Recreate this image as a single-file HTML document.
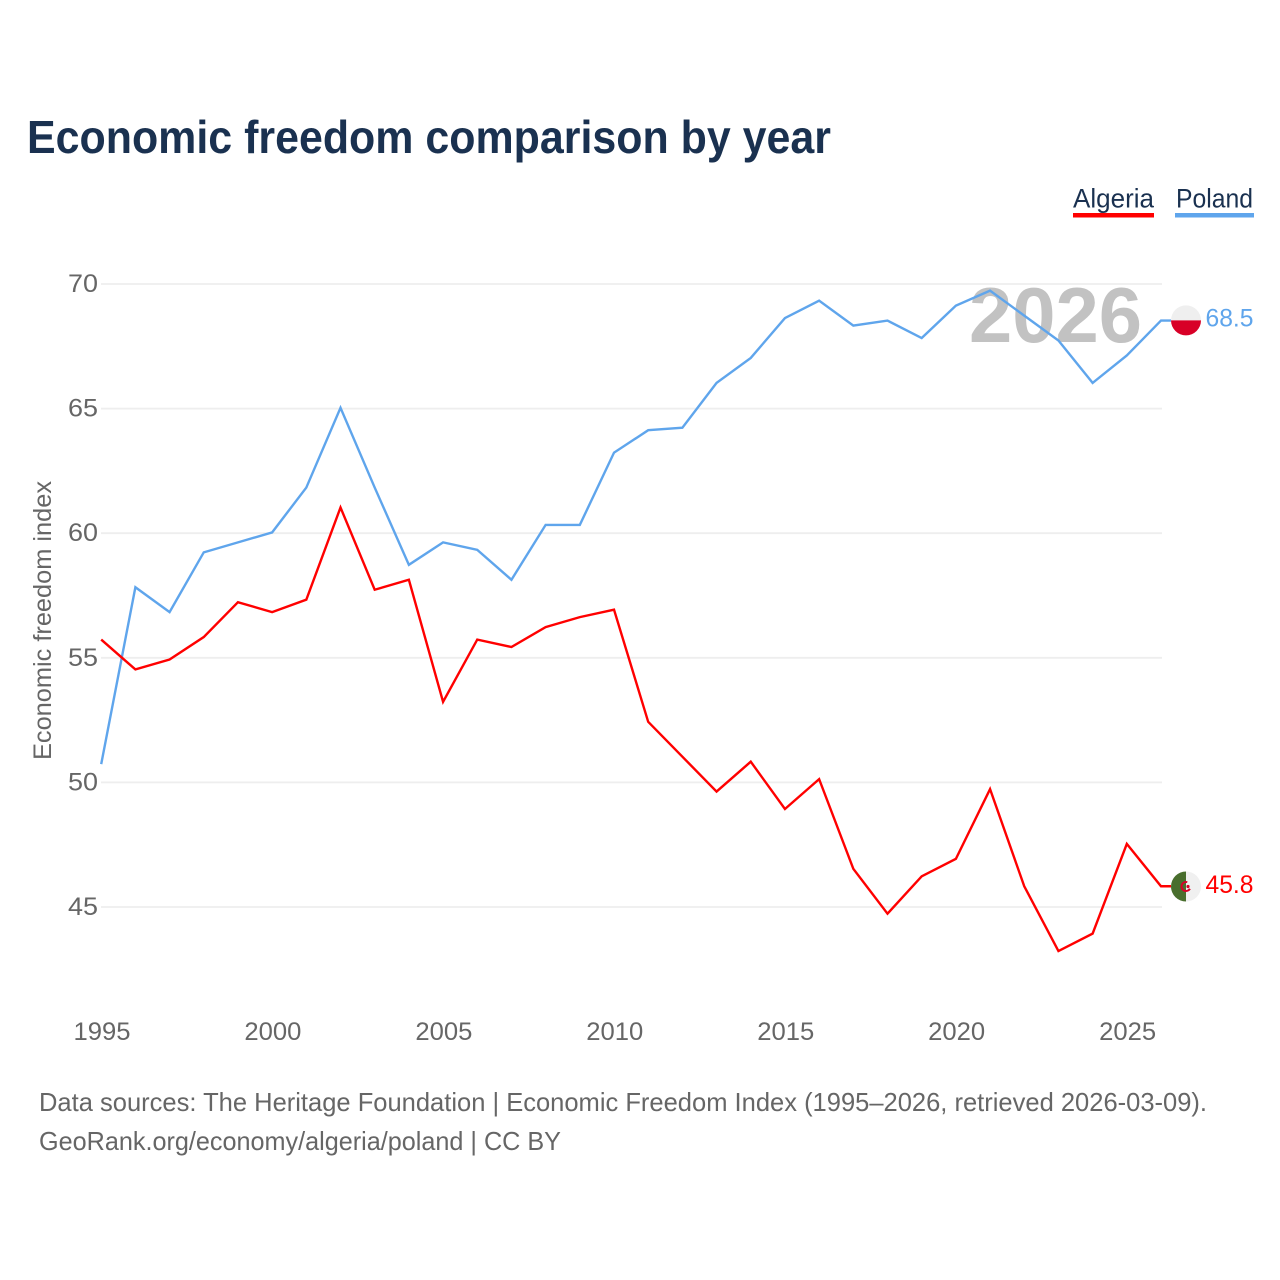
<!DOCTYPE html>
<html lang="en">
<head>
<meta charset="utf-8">
<title>Economic freedom comparison by year</title>
<style>
html,body{margin:0;padding:0;background:#fff;width:1280px;height:1280px;overflow:hidden}
svg{display:block}
text{font-family:"Liberation Sans",sans-serif}
</style>
</head>
<body>
<svg id="chart" xmlns="http://www.w3.org/2000/svg" width="1280" height="1280" viewBox="0 0 1280 1280">
  <rect x="0" y="0" width="1280" height="1280" fill="#ffffff"/>
  <text x="27" y="153" font-size="46" font-weight="700" fill="#1a3150" textLength="804" lengthAdjust="spacingAndGlyphs">Economic freedom comparison by year</text>

  <g id="grid"></g>
  <g id="yticks"></g>
  <g id="xticks"></g>
  <text transform="translate(51,620.5) rotate(-90)" text-anchor="middle" font-size="25" fill="#666666" textLength="279" lengthAdjust="spacingAndGlyphs">Economic freedom index</text>

  <text x="969" y="342" font-size="78" font-weight="700" fill="#c2c2c2" textLength="173" lengthAdjust="spacingAndGlyphs">2026</text>

  <g id="series"></g>

  <g id="flag-poland">
    <path d="M-15 0A15 15 0 0 1 15 0Z" fill="#efefef"/>
    <path d="M-15 0A15 15 0 0 0 15 0Z" fill="#d80027"/>
  </g>
  <g id="flag-algeria">
    <path d="M0 -15A15 15 0 0 0 0 15Z" fill="#496e2d"/>
    <path d="M0 -15A15 15 0 0 1 0 15Z" fill="#f0f0f0"/>
    <circle cx="0" cy="0" r="4.5" fill="none" stroke="#d80027" stroke-width="2" stroke-dasharray="20 9" transform="rotate(30)"/>
    <circle cx="2" cy="0" r="1.6" fill="#d80027"/>
  </g>
  <text id="label-poland" x="1253.5" text-anchor="end" font-size="25" fill="#5fa5ec" textLength="48" lengthAdjust="spacingAndGlyphs"></text>
  <text id="label-algeria" x="1253.5" text-anchor="end" font-size="25" fill="#ff0000" textLength="48" lengthAdjust="spacingAndGlyphs"></text>

  <g>
    <g>
      <text x="1073" y="207.5" font-size="27" fill="#1a3150" textLength="81" lengthAdjust="spacingAndGlyphs">Algeria</text>
      <rect x="1073" y="213" width="81" height="4.5" fill="#ff0000"/>
    </g>
    <g>
      <text x="1176" y="207.5" font-size="27" fill="#1a3150" textLength="77" lengthAdjust="spacingAndGlyphs">Poland</text>
      <rect x="1175" y="213" width="79" height="4.5" fill="#5fa5ec"/>
    </g>
  </g>

  <text x="39" y="1111" font-size="26" fill="#666666" textLength="1168" lengthAdjust="spacingAndGlyphs">Data sources: The Heritage Foundation | Economic Freedom Index (1995–2026, retrieved 2026-03-09).</text>
  <text x="39" y="1150" font-size="26" fill="#666666" textLength="522" lengthAdjust="spacingAndGlyphs">GeoRank.org/economy/algeria/poland | CC BY</text>
</svg>
<script>
const years = [1995,1996,1997,1998,1999,2000,2001,2002,2003,2004,2005,2006,2007,2008,2009,2010,2011,2012,2013,2014,2015,2016,2017,2018,2019,2020,2021,2022,2023,2024,2025,2026];
const algeria = [55.7,54.5,54.9,55.8,57.2,56.8,57.3,61.0,57.7,58.1,53.2,55.7,55.4,56.2,56.6,56.9,52.4,51.0,49.6,50.8,48.9,50.1,46.5,44.7,46.2,46.9,49.7,45.8,43.2,43.9,47.5,45.8];
const poland = [50.7,57.8,56.8,59.2,59.6,60.0,61.8,65.0,61.8,58.7,59.6,59.3,58.1,60.3,60.3,63.2,64.1,64.2,66.0,67.0,68.6,69.3,68.3,68.5,67.8,69.1,69.7,68.7,67.7,66.0,67.1,68.5];
const yTickValues = [45,50,55,60,65,70];
const xTickValues = [1995,2000,2005,2010,2015,2020,2025];

const NS = 'http://www.w3.org/2000/svg';
function xScale(year){ return 101.2 + (year - 1995) * (1161 - 101.2) / 31; }
function yScale(value){ return 907 - (value - 45) * (907 - 284) / 25; }
const lineOffset = -0.8;
function make(tag, attrs){
  const el = document.createElementNS(NS, tag);
  for (const k in attrs) el.setAttribute(k, attrs[k]);
  return el;
}

const gridGroup = document.getElementById('grid');
const yGroup = document.getElementById('yticks');
yTickValues.forEach(function(v){
  const line = make('line', {x1:101, x2:1162, y1:yScale(v), y2:yScale(v), stroke:'#eeeeee', 'stroke-width':1.8});
  
  
  gridGroup.appendChild(line);
  const t = make('text', {x:98, y:yScale(v) + 8, 'text-anchor':'end', 'font-size':25, fill:'#666666', textLength:30, lengthAdjust:'spacingAndGlyphs'});
  
  
  t.textContent = v;
  yGroup.appendChild(t);
});

const xGroup = document.getElementById('xticks');
xTickValues.forEach(function(y){
  const t = make('text', {x:xScale(y) + 0.8, y:1040, 'text-anchor':'middle', 'font-size':25, fill:'#666666', textLength:57, lengthAdjust:'spacingAndGlyphs'});
  
  
  t.textContent = y;
  xGroup.appendChild(t);
});

function linePath(values){
  let d = values.map(function(v, i){
    return (i ? 'L' : 'M') + xScale(years[i]).toFixed(2) + ' ' + (yScale(v) + lineOffset).toFixed(2);
  }).join('');
  d += 'L1171 ' + (yScale(values[values.length - 1]) + lineOffset).toFixed(2);
  return d;
}
const seriesGroup = document.getElementById('series');
const polandLine = make('path', {d:linePath(poland), fill:'none', stroke:'#5fa5ec', 'stroke-width':2.4, 'stroke-linejoin':'miter'});


seriesGroup.appendChild(polandLine);
const algeriaLine = make('path', {d:linePath(algeria), fill:'none', stroke:'#ff0000', 'stroke-width':2.4, 'stroke-linejoin':'miter'});


seriesGroup.appendChild(algeriaLine);

const lastP = poland[poland.length - 1];
const lastA = algeria[algeria.length - 1];
document.getElementById('flag-poland').setAttribute('transform', 'translate(1186,' + (yScale(lastP) - 1) + ')');
document.getElementById('flag-algeria').setAttribute('transform', 'translate(1186,' + (yScale(lastA) - 0.6) + ')');
const lp = document.getElementById('label-poland');
lp.setAttribute('y', yScale(lastP) + 5);
lp.textContent = lastP.toFixed(1);
const la = document.getElementById('label-algeria');
la.setAttribute('y', yScale(lastA) + 6);
la.textContent = lastA.toFixed(1);
</script>
</body>
</html>
